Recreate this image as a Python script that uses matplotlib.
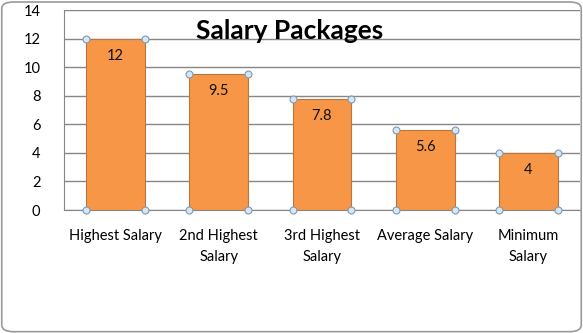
import matplotlib.pyplot as plt
from matplotlib.patches import FancyBboxPatch

categories = ["Highest Salary", "2nd Highest\nSalary", "3rd Highest\nSalary",
              "Average Salary", "Minimum\nSalary"]
salaries = [12, 9.5, 7.8, 5.6, 4]
yticks = [0, 2, 4, 6, 8, 10, 12, 14]

plt.rcParams['font.family'] = ['Lato', 'DejaVu Sans']

fig = plt.figure(figsize=(5.83, 3.33), dpi=100)
ax = fig.add_axes([64 / 583, 1 - 210 / 333, 516 / 583, 200 / 333])

x = list(range(len(categories)))
width = 0.57
bars = ax.bar(x, salaries, width=width, color="#F79646", edgecolor="#B9763F",
              linewidth=0.8, zorder=3)

# selection handles at the bar corners
for xi, v in zip(x, salaries):
    for cx in (xi - width / 2, xi + width / 2):
        for cy in (0, v):
            ax.plot(cx, cy, marker="o", markersize=5, markerfacecolor="#D9E6F0",
                    markeredgecolor="#7A9BB8", markeredgewidth=0.8, zorder=5,
                    clip_on=False)

for xi, v in zip(x, salaries):
    ax.text(xi, v - 1.2, f"{v:g}", ha="center", va="center", fontsize=10.5,
            color="#111111", zorder=4)

ax.set_xlim(-0.5, len(categories) - 0.5)
ax.set_ylim(0, 14)
ax.set_yticks(yticks)
ax.set_xticks(x)
ax.set_xticklabels(categories, fontsize=10.5, linespacing=1.6)
ax.tick_params(axis="y", length=0, pad=17, labelsize=10.5)
ax.tick_params(axis="x", length=0, pad=14)
ax.yaxis.grid(True, color="#868686", linewidth=1, zorder=0)
for s in ("top", "right"):
    ax.spines[s].set_visible(False)
ax.spines["left"].set_color("#868686")
ax.spines["bottom"].set_color("#868686")

fig.text(0.497, 1 - 31 / 333, "Salary Packages", ha="center", va="center",
         fontsize=19, fontweight="bold", color="#000000")

# rounded frame around the chart
frame = FancyBboxPatch((0.003, 0.004), 0.994, 0.99, boxstyle="round,pad=0,rounding_size=0.02",
                       transform=fig.transFigure, facecolor="none",
                       edgecolor="#9A9A9A", linewidth=1.2)
fig.patches.append(frame)

fig.savefig("out.png", dpi=100)
